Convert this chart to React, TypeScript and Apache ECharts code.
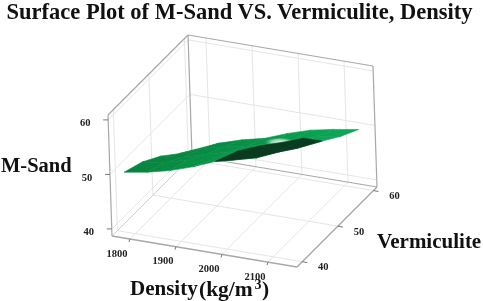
import React, { useEffect, useRef } from "react";
import * as echarts from "echarts";

const densityTicks = [1800, 1900, 2000, 2100];
const vermiculiteTicks = [40, 50, 60];
const msandTicks = [40, 50, 60];

const densityGrid = [1780, 1830, 1880, 1930, 1980, 2030, 2080, 2135];
const vermiculiteGrid = [40, 45, 50, 55, 60];
const msandAtV40 = [49.7, 50.4, 51.4, 52.8, 54.5, 57.1, 58.8, 60.3];
const msandAtV45 = [48.3, 48.9, 50.1, 50.8, 51.5, 52.6, 54.4, 57.7];
const msandAtV50 = [46.1, 46.6, 47.9, 49.0, 49.7, 50.8, 51.8, 53.9];
const msandAtV55 = [43.3, 44.9, 46.0, 46.8, 48.0, 49.3, 50.6, 51.5];
const msandAtV60 = [40.9, 42.7, 44.0, 45.0, 46.6, 47.9, 48.75, 49.5];
const msandRows = [msandAtV40, msandAtV45, msandAtV50, msandAtV55, msandAtV60];
const sheenAt = [2022, 52.5, 50.5];

const D = [1761, 2163];
const V = [38.5, 61];
const M = [38.7, 60.9];

const project = (d: number, v: number, m: number): [number, number] => {
  const u = (d - D[0]) / (D[1] - D[0]);
  const t = (v - V[0]) / (V[1] - V[0]);
  const h = (m - M[0]) / (M[1] - M[0]);
  return [112 + 185 * u + 80 * t - 4 * h, 236 + 31 * u - 80 * t - 121 * h];
};

type Seg = [number, number, number, number, number, number, string, number];
const segs: Seg[] = [];
const add = (a: number[], b: number[], c: string, w: number) =>
  segs.push([a[0], a[1], a[2], b[0], b[1], b[2], c, w]);
const grid = "#e6e6e6";
const edge = "#a8a8a8";
for (const d of densityTicks) {
  add([d, V[1], M[0]], [d, V[1], M[1]], grid, 1);
  add([d, V[0], M[0]], [d, V[1], M[0]], grid, 1);
}
for (const v of vermiculiteTicks) {
  add([D[0], v, M[0]], [D[0], v, M[1]], grid, 1);
  add([D[0], v, M[0]], [D[1], v, M[0]], grid, 1);
}
for (const m of msandTicks) {
  add([D[0], V[0], m], [D[0], V[1], m], grid, 1);
  add([D[0], V[1], m], [D[1], V[1], m], grid, 1);
}
add([D[0], V[0], M[0]], [D[0], V[1], M[0]], "#cfcfcf", 1);
add([D[0], V[1], M[0]], [D[1], V[1], M[0]], edge, 1.2);
add([D[0], V[1], M[0]], [D[0], V[1], M[1]], edge, 1.2);
add([D[1], V[1], M[0]], [D[1], V[1], M[1]], edge, 1.2);
add([D[0], V[1], M[1]], [D[1], V[1], M[1]], edge, 1.2);
add([D[0], V[0], M[1]], [D[0], V[1], M[1]], edge, 1.2);
add([D[0], V[0], M[0]], [D[0], V[0], M[1]], edge, 1.2);
add([D[0], V[0], M[0]], [D[1], V[0], M[0]], edge, 1.4);
add([D[1], V[0], M[0]], [D[1], V[1], M[0]], edge, 1.4);

// far rows first, so that nearer parts of the surface cover them; [-1, 0] is the sheen
const quads: number[][] = [];
for (let r = vermiculiteGrid.length - 2; r >= 0; r--) {
  for (let c = 0; c < densityGrid.length - 1; c++) quads.push([r, c]);
  if (r === 2) quads.push([-1, 0]);
}

const quadPoints = (r: number, c: number) =>
  [
    [c, r],
    [c + 1, r],
    [c + 1, r + 1],
    [c, r + 1],
  ].map(([i, j]) => project(densityGrid[i], vermiculiteGrid[j], msandRows[j][i]));

const greenAt = (c: number) => {
  const f = Math.min(1, Math.max(0, c / 7));
  return `rgb(${Math.round(7 + 5 * f)},${Math.round(130 + 36 * f)},${Math.round(62 + 24 * f)})`;
};
const darkAt = (c: number) => {
  if (c <= 2) return "#0a7a3e";
  const f = Math.min(1, (c - 2) / 2);
  return `rgb(10,${Math.round(95 - 37 * f)},${Math.round(50 - 18 * f)})`;
};

const quadFill = (pts: number[][], c: number) => {
  let area = 0;
  for (let i = 0; i < 4; i++) {
    const a = pts[i];
    const b = pts[(i + 1) % 4];
    area += a[0] * b[1] - b[0] * a[1];
  }
  // on screen the top side of a quad winds one way, the underside the other
  const col = area > 0 ? darkAt : greenAt;
  return new echarts.graphic.LinearGradient(
    pts[0][0],
    0,
    pts[1][0],
    0,
    [
      { offset: 0, color: col(c) },
      { offset: 1, color: col(c + 1) },
    ],
    true,
  );
};

const tickMarks = [
  ...msandTicks.map((m) => ({ p: [D[0], V[0], m], dx: -5, dy: 0, ox: -23, oy: 3, t: String(m) })),
  ...densityTicks.map((d) => ({ p: [d, V[0], M[0]], dx: -1, dy: 3, ox: -13, oy: 14, t: String(d) })),
  ...vermiculiteTicks.map((v) => ({ p: [D[1], v, M[0]], dx: 5, dy: 1, ox: 21, oy: 5, t: String(v) })),
];

export default function App() {
  const ref = useRef<HTMLDivElement>(null);
  useEffect(() => {
    document.body.style.margin = "0";
    const chart = echarts.init(ref.current!, undefined, { renderer: "svg" });
    const serif = "Liberation Serif";
    chart.setOption({
      animation: false,
      backgroundColor: "#fff",
      grid: { left: 0, right: 0, top: 0, bottom: 0 },
      xAxis: { type: "value", min: 0, max: 484, show: false },
      yAxis: { type: "value", min: 0, max: 301, inverse: true, show: false },
      series: [
        {
          type: "custom",
          silent: true,
          coordinateSystem: "cartesian2d",
          data: segs.map((_, i) => [i]),
          renderItem: (_: any, api: any) => {
            const s = segs[api.value(0)];
            const a = api.coord(project(s[0], s[1], s[2]));
            const b = api.coord(project(s[3], s[4], s[5]));
            return {
              type: "line",
              shape: { x1: a[0], y1: a[1], x2: b[0], y2: b[1] },
              style: { stroke: s[6], lineWidth: s[7] },
            };
          },
        },
        {
          type: "custom",
          silent: true,
          coordinateSystem: "cartesian2d",
          data: quads,
          renderItem: (_: any, api: any) => {
            const r = api.value(0);
            const c = api.value(1);
            if (r < 0) {
              const p = api.coord(project(sheenAt[0], sheenAt[1], sheenAt[2]));
              return {
                type: "ellipse",
                shape: { cx: p[0], cy: p[1], rx: 15, ry: 4.5 },
                style: {
                  fill: new echarts.graphic.RadialGradient(0.5, 0.5, 0.5, [
                    { offset: 0, color: "rgba(235,250,240,0.95)" },
                    { offset: 0.55, color: "rgba(200,240,215,0.7)" },
                    { offset: 1, color: "rgba(120,220,160,0)" },
                  ]),
                },
              };
            }
            const pts = quadPoints(r, c).map((p) => api.coord(p));
            const fill = quadFill(pts, c);
            return {
              type: "polygon",
              shape: { points: pts },
              style: { fill, stroke: fill, lineWidth: 0.6 },
            };
          },
        },
        {
          type: "custom",
          silent: true,
          coordinateSystem: "cartesian2d",
          data: tickMarks.map((_, i) => [i]),
          renderItem: (_: any, api: any) => {
            const k = tickMarks[api.value(0)];
            const a = api.coord(project(k.p[0], k.p[1], k.p[2]));
            return {
              type: "group",
              children: [
                {
                  type: "line",
                  shape: { x1: a[0], y1: a[1], x2: a[0] + k.dx, y2: a[1] + k.dy },
                  style: { stroke: "#777", lineWidth: 1 },
                },
                {
                  type: "text",
                  x: a[0] + k.ox,
                  y: a[1] + k.oy,
                  style: {
                    text: k.t,
                    fill: "#222",
                    font: `bold 10.5px "${serif}"`,
                    align: "center",
                    verticalAlign: "middle",
                  },
                },
              ],
            };
          },
        },
      ],
      graphic: [
        {
          type: "text",
          x: 239.5,
          y: 11.5,
          style: {
            text: "Surface Plot of M-Sand VS. Vermiculite, Density",
            fill: "#111",
            font: `bold 22.5px "${serif}"`,
            align: "center",
            verticalAlign: "middle",
          },
        },
        {
          type: "text",
          x: 1,
          y: 165,
          style: { text: "M-Sand", fill: "#111", font: `bold 20.5px "${serif}"`, verticalAlign: "middle" },
        },
        {
          type: "text",
          x: 377,
          y: 241,
          style: { text: "Vermiculite", fill: "#111", font: `bold 21px "${serif}"`, verticalAlign: "middle" },
        },
        {
          type: "text",
          x: 130,
          y: 288,
          style: { text: "Density", fill: "#111", font: `bold 21px "${serif}"`, verticalAlign: "middle" },
        },
        {
          type: "text",
          x: 199,
          y: 289,
          style: { text: "(kg/m", fill: "#111", font: `bold 21.5px "${serif}"`, verticalAlign: "middle" },
        },
        {
          type: "text",
          x: 254.5,
          y: 284,
          style: { text: "3", fill: "#111", font: `bold 14px "${serif}"`, verticalAlign: "middle" },
        },
        {
          type: "text",
          x: 262,
          y: 289,
          style: { text: ")", fill: "#111", font: `bold 21.5px "${serif}"`, verticalAlign: "middle" },
        },
      ],
    });
    return () => chart.dispose();
  }, []);
  return <div ref={ref} style={{ width: 484, height: 301, filter: "blur(0.4px)" }} />;
}
